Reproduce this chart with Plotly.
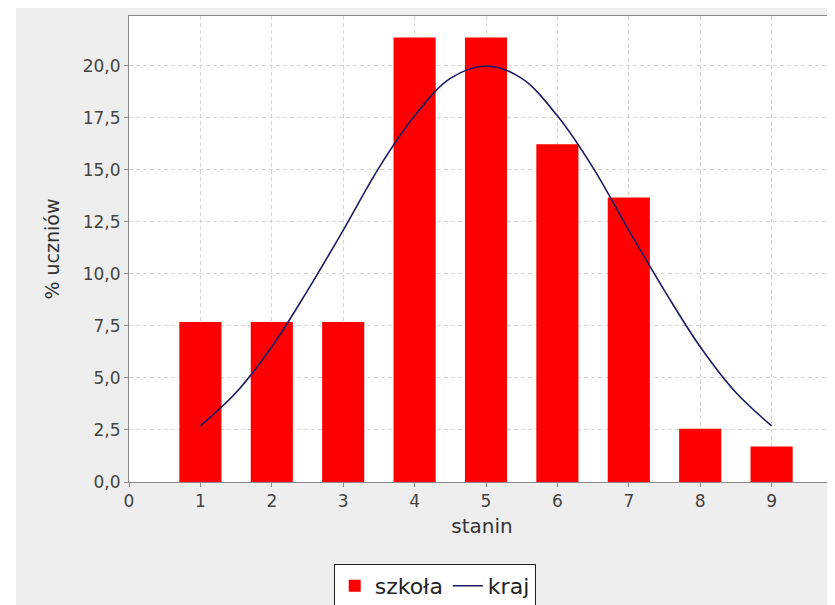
import plotly.graph_objects as go

# stanin categories and values (% of pupils)
stanin = [1, 2, 3, 4, 5, 6, 7, 8, 9]
szkola = [7.69, 7.69, 7.69, 21.37, 21.37, 16.24, 13.68, 2.56, 1.71]

# national curve at half-stanin steps
kraj_x = [1, 1.5, 2, 2.5, 3, 3.5, 4, 4.5, 5, 5.5, 6, 6.5, 7, 7.5, 8, 8.5, 9]
kraj_y = [2.7, 4.3, 6.5, 9.2, 12.1, 15.1, 17.6, 19.4, 20.0,
          19.4, 17.6, 15.1, 12.1, 9.2, 6.5, 4.3, 2.7]

x_ticks = [0, 1, 2, 3, 4, 5, 6, 7, 8, 9]
y_ticks = [0, 2.5, 5, 7.5, 10, 12.5, 15, 17.5, 20]
y_labels = ["0,0", "2,5", "5,0", "7,5", "10,0", "12,5", "15,0", "17,5", "20,0"]

fig = go.Figure()
fig.add_trace(go.Bar(x=stanin, y=szkola, name="szkoła", width=0.59,
                     marker=dict(color="#fe0000", line=dict(width=0))))
fig.add_trace(go.Scatter(x=kraj_x, y=kraj_y, name="kraj", mode="lines",
                         line=dict(color="#1c1c62", width=1.6, shape="spline")))

axis_col = "#8a8a8a"
grid_col = "#d4d4d4"

# page body has an 8px margin, so the figure is sized to fit inside it
fig.update_layout(
    width=827, height=597,
    margin=dict(l=121, r=0, t=8, b=123, autoexpand=False),
    paper_bgcolor="#eeeeee", plot_bgcolor="white",
    font=dict(family="DejaVu Sans", color="#333333"),
    showlegend=True,
    legend=dict(orientation="h", x=0.433, xanchor="center", y=-0.176, yanchor="top",
                bgcolor="white", bordercolor="#222222", borderwidth=1,
                font=dict(size=22, color="#222222"), itemwidth=30,
                traceorder="normal"),
    shapes=[
        dict(type="rect", xref="paper", yref="paper", x0=-0.18, x1=-0.16006,
             y0=-0.3, y1=1.05, fillcolor="white", line=dict(width=0), layer="below"),
    ],
)

fig.update_xaxes(
    range=[0, 9.888], tickvals=x_ticks, ticktext=[str(v) for v in x_ticks],
    showline=True, linecolor=axis_col, linewidth=1, mirror=True,
    ticks="outside", ticklen=4, tickcolor=axis_col,
    tickfont=dict(size=17, color="#444444"),
    showgrid=True, gridcolor=grid_col, griddash="4px,3px", gridwidth=1,
    zeroline=False,
    title=dict(text="stanin", font=dict(size=20, color="#333333"), standoff=8),
)
fig.update_yaxes(
    range=[0, 22.4], tickvals=y_ticks, ticktext=y_labels,
    showline=True, linecolor=axis_col, linewidth=1,
    ticks="outside", ticklen=4, tickcolor=axis_col,
    tickfont=dict(size=17, color="#444444"),
    showgrid=True, gridcolor=grid_col, griddash="4px,3px", gridwidth=1,
    zeroline=False,
    title=dict(text="% uczniów", font=dict(size=19, color="#333333"), standoff=18),
)

fig.write_html("out.html")
